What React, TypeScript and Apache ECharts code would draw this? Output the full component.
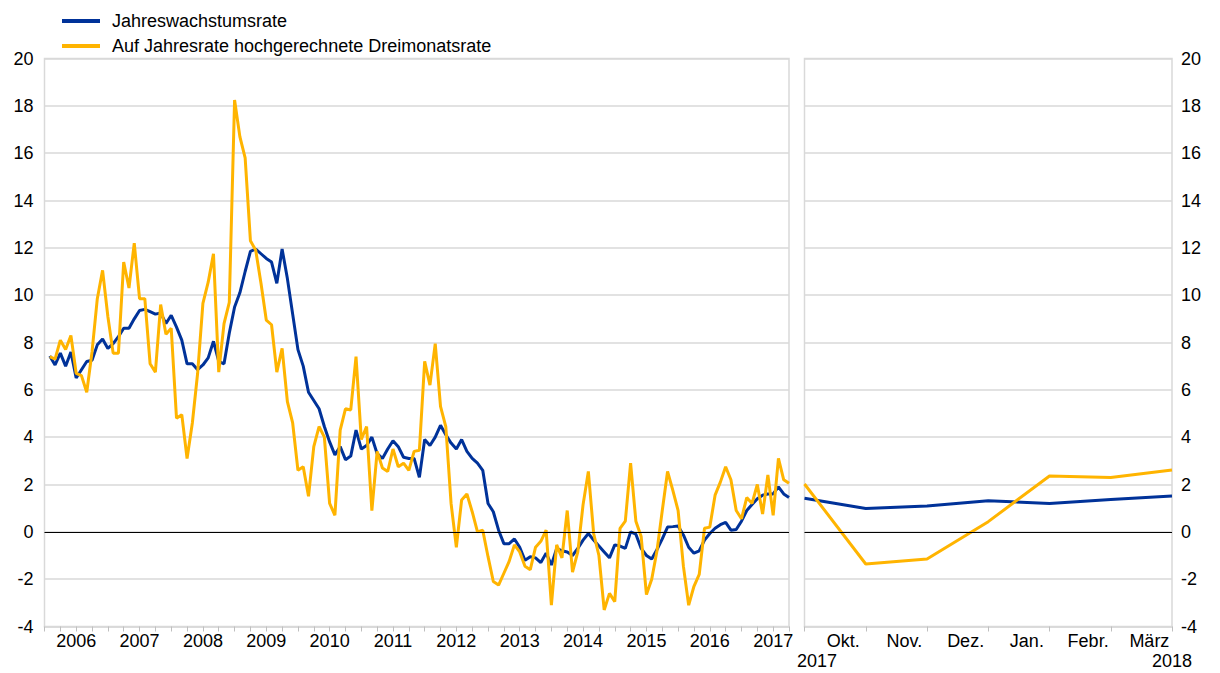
import React, { useEffect, useRef } from 'react';
import * as echarts from 'echarts';

// Year labels of the left panel (monthly data, Jan 2006 – Sep 2017)
const years = ['2006', '2007', '2008', '2009', '2010', '2011', '2012', '2013', '2014', '2015', '2016', '2017'];

// Jahreswachstumsrate, monthly, Jan 2006 – Sep 2017
const blueMonthly = [
  7.43, 7.05, 7.55, 7.0, 7.6, 6.5, 6.85, 7.2, 7.25, 7.9, 8.15, 7.75,
  7.95, 8.25, 8.6, 8.6, 9.0, 9.35, 9.4, 9.3, 9.2, 9.25, 8.8, 9.15,
  8.65, 8.1, 7.1, 7.1, 6.85, 7.05, 7.35, 8.05, 7.2, 7.1, 8.4, 9.5,
  10.1, 11.0, 11.85, 11.95, 11.75, 11.55, 11.4, 10.5, 11.95, 10.7, 9.2, 7.7,
  7.0, 5.9, 5.55, 5.2, 4.45, 3.8, 3.25, 3.6, 3.05, 3.2, 4.3, 3.5,
  3.65, 4.0, 3.3, 3.1, 3.5, 3.85, 3.6, 3.15, 3.1, 3.1, 2.3, 3.9,
  3.65, 4.0, 4.5, 4.1, 3.75, 3.5, 3.9, 3.4, 3.1, 2.9, 2.6, 1.2,
  0.85, 0.07, -0.5, -0.5, -0.3, -0.65, -1.2, -1.05, -1.1, -1.3, -0.9, -1.4,
  -0.7, -0.8, -0.85, -1.0, -0.7, -0.35, -0.07, -0.35, -0.6, -0.85, -1.1, -0.55,
  -0.6, -0.7, 0.0, -0.1, -0.7, -1.0, -1.15, -0.75, -0.3, 0.2, 0.22, 0.25,
  -0.13, -0.65, -0.9, -0.8, -0.35, -0.07, 0.15, 0.3, 0.4, 0.07, 0.1, 0.45,
  0.9, 1.15, 1.4, 1.55, 1.6, 1.6, 1.9, 1.6, 1.45,
];

// Auf Jahresrate hochgerechnete Dreimonatsrate, monthly, Jan 2006 – Sep 2017
const yellowMonthly = [
  7.4, 7.3, 8.1, 7.7, 8.3, 6.7, 6.6, 5.9, 7.6, 9.85, 11.05, 9.1,
  7.55, 7.55, 11.4, 10.3, 12.2, 9.85, 9.85, 7.1, 6.75, 9.6, 8.35, 8.6,
  4.8, 4.95, 3.1, 4.6, 6.7, 9.65, 10.55, 11.75, 6.75, 8.8, 9.7, 18.25,
  16.7, 15.8, 12.3, 11.9, 10.5, 8.95, 8.75, 6.75, 7.75, 5.5, 4.6, 2.6,
  2.75, 1.5, 3.6, 4.45, 4.0, 1.2, 0.7, 4.3, 5.2, 5.15, 7.4, 3.9,
  4.45, 0.9, 3.4, 2.7, 2.55, 3.5, 2.75, 2.9, 2.6, 3.4, 3.45, 7.2,
  6.2, 7.95, 5.3, 4.45, 1.2, -0.65, 1.35, 1.6, 0.85, 0.0, 0.07, -1.05,
  -2.1, -2.25, -1.75, -1.25, -0.55, -0.85, -1.45, -1.6, -0.65, -0.4, 0.07, -3.1,
  -0.55, -1.1, 0.9, -1.7, -0.85, 1.15, 2.55, -0.07, -1.0, -3.3, -2.6, -2.95,
  0.15, 0.45, 2.9, 0.45, -0.2, -2.65, -2.0, -0.8, 0.9, 2.55, 1.75, 0.9,
  -1.45, -3.1, -2.3, -1.8, 0.15, 0.2, 1.55, 2.1, 2.75, 2.2, 0.9, 0.55,
  1.45, 1.2, 2.0, 0.75, 2.4, 0.7, 3.1, 2.2, 2.05,
];

// Right panel: month-end values, Sep 2017 – März 2018
const recentLabels = ['Okt.', 'Nov.', 'Dez.', 'Jan.', 'Febr.', 'März'];
const blueRecent = [1.42, 0.99, 1.09, 1.31, 1.2, 1.37, 1.51];
const yellowRecent = [2.02, -1.36, -1.15, 0.43, 2.36, 2.3, 2.61];

const seriesNames = ['Jahreswachstumsrate', 'Auf Jahresrate hochgerechnete Dreimonatsrate'];

const BLUE = '#003299';
const YELLOW = '#ffb400';
const GRID = '#d9d9d9';
const FONT = 'Arial, "Liberation Sans", sans-serif';
const FS = 18;

export default function App() {
  const ref = useRef<HTMLDivElement>(null);

  useEffect(() => {
    document.body.style.margin = '0';
    const chart = echarts.init(ref.current as HTMLDivElement, null, { renderer: 'svg' });

    const zeroLine = {
      silent: true,
      symbol: ['none', 'none'],
      label: { show: false },
      lineStyle: { color: '#000', width: 1, type: 'solid' },
      data: [{ yAxis: 0 }],
    };

    const labelStyle = { color: '#000', fontSize: FS, fontFamily: FONT };

    const yAxisBase = {
      type: 'value',
      min: -4,
      max: 20,
      interval: 2,
      axisLine: { show: false },
      axisTick: { show: false },
      splitLine: { lineStyle: { color: GRID, width: 1.5 } },
    };

    chart.setOption({
      animation: false,
      textStyle: { fontFamily: FONT },
      legend: {
        orient: 'vertical',
        left: 57,
        top: 7,
        itemWidth: 38,
        itemHeight: 4,
        itemGap: 7,
        icon: 'rect',
        data: seriesNames,
        textStyle: { color: '#000', fontSize: FS, lineHeight: 18, fontFamily: FONT, padding: [0, 0, 0, 7] },
      },
      grid: [
        { left: 44.5, top: 58.5, width: 744.5, height: 568, show: true, borderColor: GRID, borderWidth: 1.5 },
        { left: 804.5, top: 58.5, width: 367.5, height: 568, show: true, borderColor: GRID, borderWidth: 1.5 },
      ],
      xAxis: [
        {
          type: 'value',
          gridIndex: 0,
          min: 0,
          max: 141,
          interval: 3,
          axisLine: { show: true, onZero: false, lineStyle: { color: GRID, width: 1.5 } },
          axisTick: { show: true, length: 5, lineStyle: { color: '#bfbfbf' } },
          splitLine: { show: false },
          axisLabel: {
            ...labelStyle,
            margin: 5,
            showMinLabel: true,
            showMaxLabel: true,
            formatter: (v: number) => (v % 12 === 6 ? years[(v - 6) / 12] || '' : ''),
          },
        },
        {
          type: 'category',
          gridIndex: 1,
          data: recentLabels,
          boundaryGap: true,
          axisLine: { show: true, onZero: false, lineStyle: { color: GRID, width: 1.5 } },
          axisTick: { show: true, length: 5, lineStyle: { color: '#bfbfbf' } },
          splitLine: { show: false },
          axisLabel: { ...labelStyle, margin: 5, padding: [0, 0, 0, 16] },
        },
        { type: 'value', gridIndex: 1, min: 0, max: 6, show: false },
      ],
      yAxis: [
        { ...yAxisBase, gridIndex: 0, position: 'left', axisLabel: { ...labelStyle, margin: 11 } },
        { ...yAxisBase, gridIndex: 1, position: 'right', axisLabel: { ...labelStyle, margin: 9 } },
      ],
      graphic: [
        { type: 'text', left: 797, top: 652, style: { text: '2017', fontSize: FS, fill: '#000', fontFamily: FONT } },
        { type: 'text', right: 28, top: 652, style: { text: '2018', fontSize: FS, fill: '#000', fontFamily: FONT } },
      ],
      series: [
        {
          name: seriesNames[0],
          type: 'line',
          xAxisIndex: 0,
          yAxisIndex: 0,
          symbol: 'none',
          lineStyle: { color: BLUE, width: 3 },
          itemStyle: { color: BLUE },
          data: blueMonthly.map((v, i) => [i + 1, v]),
          markLine: zeroLine,
          z: 3,
        },
        {
          name: seriesNames[1],
          type: 'line',
          xAxisIndex: 0,
          yAxisIndex: 0,
          symbol: 'none',
          lineStyle: { color: YELLOW, width: 3 },
          itemStyle: { color: YELLOW },
          data: yellowMonthly.map((v, i) => [i + 1, v]),
          z: 4,
        },
        {
          name: seriesNames[0],
          type: 'line',
          xAxisIndex: 2,
          yAxisIndex: 1,
          symbol: 'none',
          lineStyle: { color: BLUE, width: 3 },
          itemStyle: { color: BLUE },
          data: blueRecent.map((v, i) => [i, v]),
          markLine: zeroLine,
          z: 3,
        },
        {
          name: seriesNames[1],
          type: 'line',
          xAxisIndex: 2,
          yAxisIndex: 1,
          symbol: 'none',
          lineStyle: { color: YELLOW, width: 3 },
          itemStyle: { color: YELLOW },
          data: yellowRecent.map((v, i) => [i, v]),
          z: 4,
        },
      ],
    });

    return () => chart.dispose();
  }, []);

  return <div ref={ref} style={{ width: 1220, height: 673 }} />;
}
